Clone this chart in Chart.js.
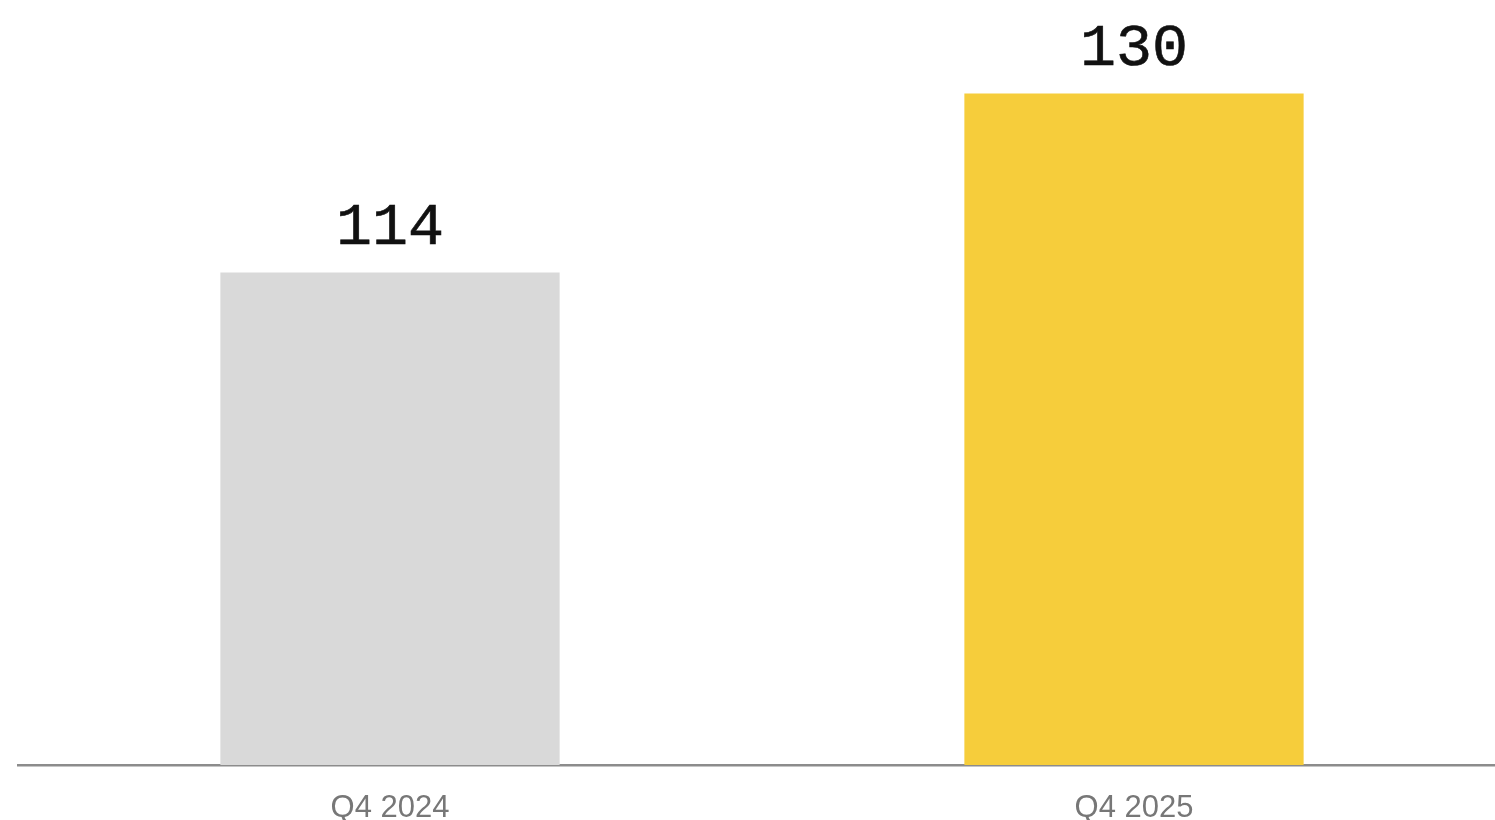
<!DOCTYPE html>
<html>
<head>
<meta charset="utf-8">
<script src="https://cdn.jsdelivr.net/npm/chart.js@4/dist/chart.umd.min.js"></script>
<style>
  html, body { margin:0; padding:0; background:#fff; overflow:hidden; }
  #wrap { width:1506px; height:820px; position:relative; }
</style>
</head>
<body>
<div id="wrap"><canvas id="chart"></canvas></div>
<script>
const quarters = ["Q4 2024","Q4 2025"];
const values = [114,130];
const barColors = ["#d9d9d9","#f6cd3b"];

// value labels above each bar
const valueLabels = {
  id:"valueLabels",
  afterDatasetsDraw(chart){
    const ctx = chart.ctx;
    const meta = chart.getDatasetMeta(0);
    ctx.save();
    ctx.font = "60px 'Liberation Mono', monospace";
    ctx.fillStyle = "#111111";
    ctx.strokeStyle = "#111111";
    ctx.lineWidth = 0.6;
    ctx.textAlign = "center";
    ctx.textBaseline = "alphabetic";
    meta.data.forEach((bar,i)=>{
      ctx.fillText(String(values[i]), bar.x, bar.y - 29);
      ctx.strokeText(String(values[i]), bar.x, bar.y - 29);
    });
    ctx.restore();
  }
};

new Chart(document.getElementById("chart"),{
  type:"bar",
  data:{
    labels:quarters,
    datasets:[{
      data:values,
      backgroundColor:barColors,
      borderWidth:0,
      barPercentage:0.456,
      categoryPercentage:1
    }]
  },
  options:{
    responsive:true,
    maintainAspectRatio:false,
    animation:false,
    layout:{padding:{left:18,top:4,right:0,bottom:0}},
    plugins:{legend:{display:false},tooltip:{enabled:false}},
    scales:{
      x:{
        grid:{display:true,color:"transparent",drawTicks:false},
        border:{display:true,color:"#8c8c8c",width:2.5},
        ticks:{
          color:"#777777",
          padding:25,
          font:{family:"'Liberation Sans', Arial, sans-serif",size:31}
        },
        afterFit(scale){ scale.height = 55; }
      },
      y:{
        display:false,
        min:70,
        max:138
      }
    }
  },
  plugins:[valueLabels]
});
</script>
</body>
</html>
